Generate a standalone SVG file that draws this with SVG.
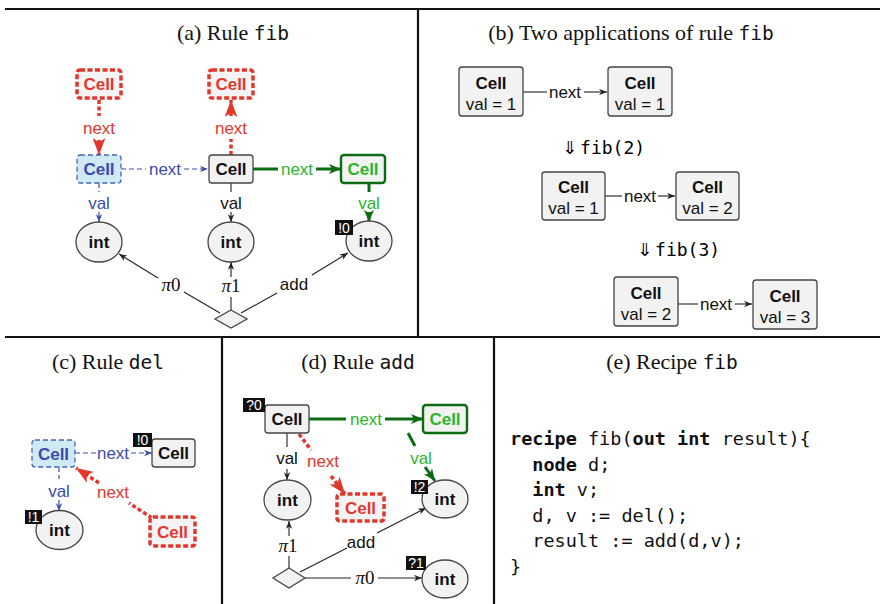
<svg xmlns="http://www.w3.org/2000/svg" width="880" height="604" viewBox="0 0 880 604">
  <style>
    .frame { stroke: #111; stroke-width: 2.2; fill: none; }
    .title { font-family: "Liberation Serif", serif; font-size: 22px; fill: #111; text-anchor: middle; }
    .tmono { font-family: "DejaVu Sans Mono", monospace; font-size: 19.5px; }
    .smono { font-family: "DejaVu Sans Mono", monospace; font-size: 18px; }
    .node { fill: #f2f2f2; stroke: #444; stroke-width: 1.3; }
    .nodeB { fill: #cfe9f5; stroke: #4a64b4; stroke-width: 1.3; stroke-dasharray: 5 3; }
    .nodeR { fill: #f4f4f4; stroke: #e0382d; stroke-width: 3.5; stroke-dasharray: 5 2.5; }
    .nodeG { fill: #f2f2f2; stroke: #0d6b12; stroke-width: 2.4; }
    .nt { font-family: "Liberation Sans", Arial, sans-serif; font-size: 17px; font-weight: bold; text-anchor: middle; fill: #111; }
    .lbl { font-family: "Liberation Sans", Arial, sans-serif; font-size: 17px; text-anchor: middle; fill: #111; }
    .red { fill: #e0382d; }
    .blue { fill: #3a4cab; }
    .green { fill: #2bb52b; }
    .math { font-family: "Liberation Serif", serif; font-size: 19px; text-anchor: middle; fill: #111; }
    .badge { fill: #111; }
    .bt { font-family: "Liberation Sans", Arial, sans-serif; font-size: 14px; fill: #fff; text-anchor: middle; }
    .ek { stroke: #222; stroke-width: 1.1; fill: none; }
    .eb { stroke: #3a4cab; stroke-width: 1.2; stroke-dasharray: 5 3; fill: none; }
    .er { stroke: #e0382d; stroke-width: 3.5; stroke-dasharray: 4 2.5; fill: none; }
    .eg { stroke: #0d6b12; stroke-width: 3; fill: none; }
    .code { font-family: "DejaVu Sans Mono", monospace; font-size: 18.5px; fill: #111; }
    .kw { font-weight: bold; }
    .sym { font-family: "DejaVu Sans", sans-serif; font-size: 18px; }
  </style>
  <defs>
    <marker id="ak" viewBox="0 0 10 8" refX="10" refY="4" markerWidth="8" markerHeight="6.4" orient="auto" markerUnits="userSpaceOnUse">
      <path d="M0,0 L10,4 L0,8 L3,4 z" fill="#222"/>
    </marker>
    <marker id="ab" viewBox="0 0 10 8" refX="10" refY="4" markerWidth="8" markerHeight="6.4" orient="auto" markerUnits="userSpaceOnUse">
      <path d="M0,0 L10,4 L0,8 L3,4 z" fill="#3a4cab"/>
    </marker>
    <marker id="ag" viewBox="0 0 12 10" refX="12" refY="5" markerWidth="12" markerHeight="10" orient="auto" markerUnits="userSpaceOnUse">
      <path d="M0,0 L12,5 L0,10 L3,5 z" fill="#0d6b12"/>
    </marker>
    <marker id="ar" viewBox="0 0 16 12" refX="16" refY="6" markerWidth="17" markerHeight="13" orient="auto" markerUnits="userSpaceOnUse">
      <path d="M0,0 L16,6 L0,12 L4,6 z" fill="#e0382d"/>
    </marker>
  </defs>

  <!-- panel frame -->
  <g id="frame" class="frame">
    <line x1="5" y1="9" x2="880" y2="9"/>
    <line x1="5" y1="337" x2="880" y2="337"/>
    <line x1="418" y1="9" x2="418" y2="337"/>
    <line x1="222" y1="337" x2="222" y2="604"/>
    <line x1="494" y1="337" x2="494" y2="604"/>
  </g>

  <!-- titles -->
  <g id="titles">
    <text class="title" x="233" y="40">(a) Rule <tspan class="tmono">fib</tspan></text>
    <text class="title" x="631" y="40">(b) Two applications of rule <tspan class="tmono">fib</tspan></text>
    <text class="title" x="108" y="369">(c) Rule <tspan class="tmono">del</tspan></text>
    <text class="title" x="358" y="369">(d) Rule <tspan class="tmono">add</tspan></text>
    <text class="title" x="672" y="369">(e) Recipe <tspan class="tmono">fib</tspan></text>
  </g>

  <!-- ===== (a) Rule fib ===== -->
  <g id="connectors-a">
    <!-- red next into blue cell -->
    <line class="er" x1="99" y1="100" x2="99" y2="116"/>
    <line class="er" x1="99" y1="140" x2="99" y2="155" marker-end="url(#ar)"/>
    <text class="lbl red" x="99" y="134">next</text>
    <!-- red next out of black cell -->
    <line class="er" x1="231" y1="155" x2="231" y2="139"/>
    <line class="er" x1="231" y1="116" x2="231" y2="100" marker-end="url(#ar)"/>
    <text class="lbl red" x="231" y="134">next</text>
    <!-- blue next -->
    <line class="eb" x1="121" y1="169" x2="146" y2="169"/>
    <line class="eb" x1="184" y1="169" x2="208" y2="169" marker-end="url(#ab)"/>
    <text class="lbl blue" x="165" y="175">next</text>
    <!-- green next -->
    <line class="eg" x1="253" y1="169" x2="278" y2="169"/>
    <line class="eg" x1="316" y1="169" x2="341" y2="169" marker-end="url(#ag)"/>
    <text class="lbl green" x="297" y="175">next</text>
    <!-- val edges -->
    <line class="eb" x1="99" y1="183" x2="99" y2="192"/>
    <line class="eb" x1="99" y1="212" x2="99" y2="222" marker-end="url(#ab)"/>
    <text class="lbl blue" x="99" y="209">val</text>
    <line class="ek" x1="231" y1="183" x2="231" y2="192"/>
    <line class="ek" x1="231" y1="212" x2="231" y2="222" marker-end="url(#ak)"/>
    <text class="lbl" x="231" y="209">val</text>
    <line class="eg" x1="369" y1="183" x2="369" y2="192"/>
    <line class="eg" x1="369" y1="212" x2="369" y2="222" marker-end="url(#ag)"/>
    <text class="lbl green" x="369" y="209">val</text>
    <!-- projections and add -->
    <line class="ek" x1="220" y1="313" x2="184" y2="292"/>
    <line class="ek" x1="158" y1="278" x2="119" y2="254" marker-end="url(#ak)"/>
    <text class="math" x="171" y="291"><tspan font-style="italic">π</tspan>0</text>
    <line class="ek" x1="231" y1="310" x2="231" y2="297"/>
    <line class="ek" x1="231" y1="277" x2="231" y2="262" marker-end="url(#ak)"/>
    <text class="math" x="231" y="292"><tspan font-style="italic">π</tspan>1</text>
    <line class="ek" x1="241" y1="313" x2="277" y2="293"/>
    <line class="ek" x1="312" y1="275" x2="348" y2="253" marker-end="url(#ak)"/>
    <text class="lbl" x="294" y="290">add</text>
  </g>
  <g id="a-cell-del-src"><rect class="nodeR" x="77" y="70" width="44" height="28" rx="3"/><text class="nt red" x="99" y="90">Cell</text></g>
  <g id="a-cell-new"><rect class="nodeR" x="209" y="70" width="44" height="28" rx="3"/><text class="nt red" x="231" y="90">Cell</text></g>
  <g id="a-cell-blue"><rect class="nodeB" x="77" y="155" width="44" height="28" rx="3"/><text class="nt blue" x="99" y="175">Cell</text></g>
  <g id="a-cell-mid"><rect class="node" x="209" y="155" width="44" height="28" rx="3"/><text class="nt" x="231" y="175">Cell</text></g>
  <g id="a-cell-green"><rect class="nodeG" x="341" y="155" width="44" height="28" rx="3"/><text class="nt green" x="363" y="175">Cell</text></g>
  <g id="a-int0"><ellipse class="node" cx="99" cy="242" rx="23" ry="20"/><text class="nt" x="99" y="248">int</text></g>
  <g id="a-int1"><ellipse class="node" cx="231" cy="242" rx="23" ry="20"/><text class="nt" x="231" y="248">int</text></g>
  <g id="a-int2"><ellipse class="node" cx="369" cy="241" rx="23" ry="20"/><text class="nt" x="369" y="247">int</text><rect class="badge" x="335" y="220" width="18" height="15"/><text class="bt" x="344" y="232.5">!0</text></g>
  <g id="a-op"><polygon class="node" points="231,310 247,319 231,328 215,319"/></g>

  <!-- ===== (b) Two applications ===== -->
  <g id="connectors-b">
    <line class="ek" x1="523" y1="92" x2="547" y2="92"/>
    <line class="ek" x1="584" y1="92" x2="607" y2="92" marker-end="url(#ak)"/>
    <text class="lbl" x="565" y="98">next</text>
    <line class="ek" x1="605" y1="196" x2="622" y2="196"/>
    <line class="ek" x1="658" y1="196" x2="675" y2="196" marker-end="url(#ak)"/>
    <text class="lbl" x="640" y="202">next</text>
    <line class="ek" x1="678" y1="304" x2="698" y2="304"/>
    <line class="ek" x1="735" y1="304" x2="752" y2="304" marker-end="url(#ak)"/>
    <text class="lbl" x="716" y="310">next</text>
  </g>
  <g id="b-steps">
    <text x="562" y="154"><tspan class="sym">⇓</tspan><tspan class="smono" dx="3">fib(2)</tspan></text>
    <text x="637" y="256"><tspan class="sym">⇓</tspan><tspan class="smono" dx="3">fib(3)</tspan></text>
  </g>
  <g id="b-r1-c1"><rect class="node" x="459" y="67" width="64" height="49" rx="3"/><text class="nt" x="491" y="89">Cell</text><text class="lbl" x="491" y="110">val = 1</text></g>
  <g id="b-r1-c2"><rect class="node" x="608" y="67" width="64" height="49" rx="3"/><text class="nt" x="640" y="89">Cell</text><text class="lbl" x="640" y="110">val = 1</text></g>
  <g id="b-r2-c1"><rect class="node" x="542" y="172" width="63" height="48" rx="3"/><text class="nt" x="573.5" y="193">Cell</text><text class="lbl" x="573.5" y="214">val = 1</text></g>
  <g id="b-r2-c2"><rect class="node" x="676" y="172" width="63" height="48" rx="3"/><text class="nt" x="707.5" y="193">Cell</text><text class="lbl" x="707.5" y="214">val = 2</text></g>
  <g id="b-r3-c1"><rect class="node" x="614" y="277" width="64" height="49" rx="3"/><text class="nt" x="646" y="299">Cell</text><text class="lbl" x="646" y="320">val = 2</text></g>
  <g id="b-r3-c2"><rect class="node" x="753" y="280" width="64" height="49" rx="3"/><text class="nt" x="785" y="302">Cell</text><text class="lbl" x="785" y="323">val = 3</text></g>

  <!-- ===== (c) Rule del ===== -->
  <g id="connectors-c">
    <line class="eb" x1="75" y1="453" x2="96" y2="453"/>
    <line class="eb" x1="131" y1="453" x2="152" y2="453" marker-end="url(#ab)"/>
    <text class="lbl blue" x="113" y="459">next</text>
    <line class="eb" x1="59" y1="467" x2="59" y2="479"/>
    <line class="eb" x1="59" y1="500" x2="59" y2="511" marker-end="url(#ab)"/>
    <text class="lbl blue" x="59" y="497">val</text>
    <line class="er" x1="152" y1="518" x2="129" y2="503"/>
    <line class="er" x1="99" y1="483" x2="76" y2="468" marker-end="url(#ar)"/>
    <text class="lbl red" x="113" y="498">next</text>
  </g>
  <g id="c-cell-blue"><rect class="nodeB" x="32" y="440" width="43" height="27" rx="3"/><text class="nt blue" x="53.5" y="459.5">Cell</text></g>
  <g id="c-cell"><rect class="node" x="152" y="439" width="43" height="28" rx="3"/><text class="nt" x="173.5" y="459">Cell</text><rect class="badge" x="133" y="433" width="19" height="14"/><text class="bt" x="142.5" y="445">!0</text></g>
  <g id="c-int"><ellipse class="node" cx="59.5" cy="530" rx="23.5" ry="19.5"/><text class="nt" x="59.5" y="536">int</text><rect class="badge" x="25" y="510" width="17" height="14"/><text class="bt" x="33.5" y="522">!1</text></g>
  <g id="c-cell-red"><rect class="nodeR" x="150" y="517" width="45" height="29" rx="3"/><text class="nt red" x="172.5" y="537.5">Cell</text></g>

  <!-- ===== (d) Rule add ===== -->
  <g id="connectors-d">
    <line class="eg" x1="309" y1="419" x2="346" y2="419"/>
    <line class="eg" x1="385" y1="419" x2="423" y2="419" marker-end="url(#ag)"/>
    <text class="lbl green" x="366" y="425">next</text>
    <line class="eg" x1="408" y1="433" x2="415" y2="446"/>
    <line class="eg" x1="425" y1="467" x2="435" y2="481" marker-end="url(#ag)"/>
    <text class="lbl green" x="421" y="464">val</text>
    <line class="ek" x1="287" y1="433" x2="287" y2="447"/>
    <line class="ek" x1="287" y1="469" x2="287" y2="480" marker-end="url(#ak)"/>
    <text class="lbl" x="287" y="464">val</text>
    <line class="er" x1="299" y1="434" x2="311" y2="450"/>
    <line class="er" x1="331" y1="476" x2="345" y2="494" marker-end="url(#ar)"/>
    <text class="lbl red" x="323" y="467">next</text>
    <line class="ek" x1="289" y1="568" x2="289" y2="556"/>
    <line class="ek" x1="289" y1="536" x2="289" y2="521" marker-end="url(#ak)"/>
    <text class="math" x="288" y="552"><tspan font-style="italic">π</tspan>1</text>
    <line class="ek" x1="300" y1="572" x2="347" y2="548"/>
    <line class="ek" x1="377" y1="533" x2="426" y2="508" marker-end="url(#ak)"/>
    <text class="lbl" x="361" y="548">add</text>
    <line class="ek" x1="305" y1="578" x2="351" y2="578"/>
    <line class="ek" x1="378" y1="578" x2="422" y2="578" marker-end="url(#ak)"/>
    <text class="math" x="365" y="584"><tspan font-style="italic">π</tspan>0</text>
  </g>
  <g id="d-cell"><rect class="node" x="265" y="405" width="44" height="28" rx="3"/><text class="nt" x="287" y="425">Cell</text><rect class="badge" x="243" y="398" width="22" height="14"/><text class="bt" x="254" y="410">?0</text></g>
  <g id="d-cell-green"><rect class="nodeG" x="423" y="405" width="44" height="28" rx="3"/><text class="nt green" x="445" y="425">Cell</text></g>
  <g id="d-int-val"><ellipse class="node" cx="287.5" cy="500" rx="23.5" ry="20"/><text class="nt" x="287.5" y="506">int</text></g>
  <g id="d-cell-red"><rect class="nodeR" x="337" y="494" width="47" height="27" rx="3"/><text class="nt red" x="360.5" y="513.5">Cell</text></g>
  <g id="d-int-sum"><ellipse class="node" cx="445" cy="499" rx="23" ry="19"/><text class="nt" x="445" y="505">int</text><rect class="badge" x="411" y="480" width="17" height="14"/><text class="bt" x="419.5" y="492">!2</text></g>
  <g id="d-op"><polygon class="node" points="289,568 305,578 289,588 273,578"/></g>
  <g id="d-int-res"><ellipse class="node" cx="445" cy="579" rx="23" ry="19"/><text class="nt" x="445" y="585">int</text><rect class="badge" x="406" y="556" width="20" height="14"/><text class="bt" x="416" y="568">?1</text></g>

  <!-- ===== (e) Recipe fib ===== -->
  <g id="e-code" class="code">
    <text x="510" y="445"><tspan class="kw">recipe</tspan> fib(<tspan class="kw">out</tspan> <tspan class="kw">int</tspan> result){</text>
    <text x="532.3" y="471"><tspan class="kw">node</tspan> d;</text>
    <text x="532.3" y="496"><tspan class="kw">int</tspan> v;</text>
    <text x="532.3" y="522">d, v := del();</text>
    <text x="532.3" y="547">result := add(d,v);</text>
    <text x="510" y="573">}</text>
  </g>
</svg>
